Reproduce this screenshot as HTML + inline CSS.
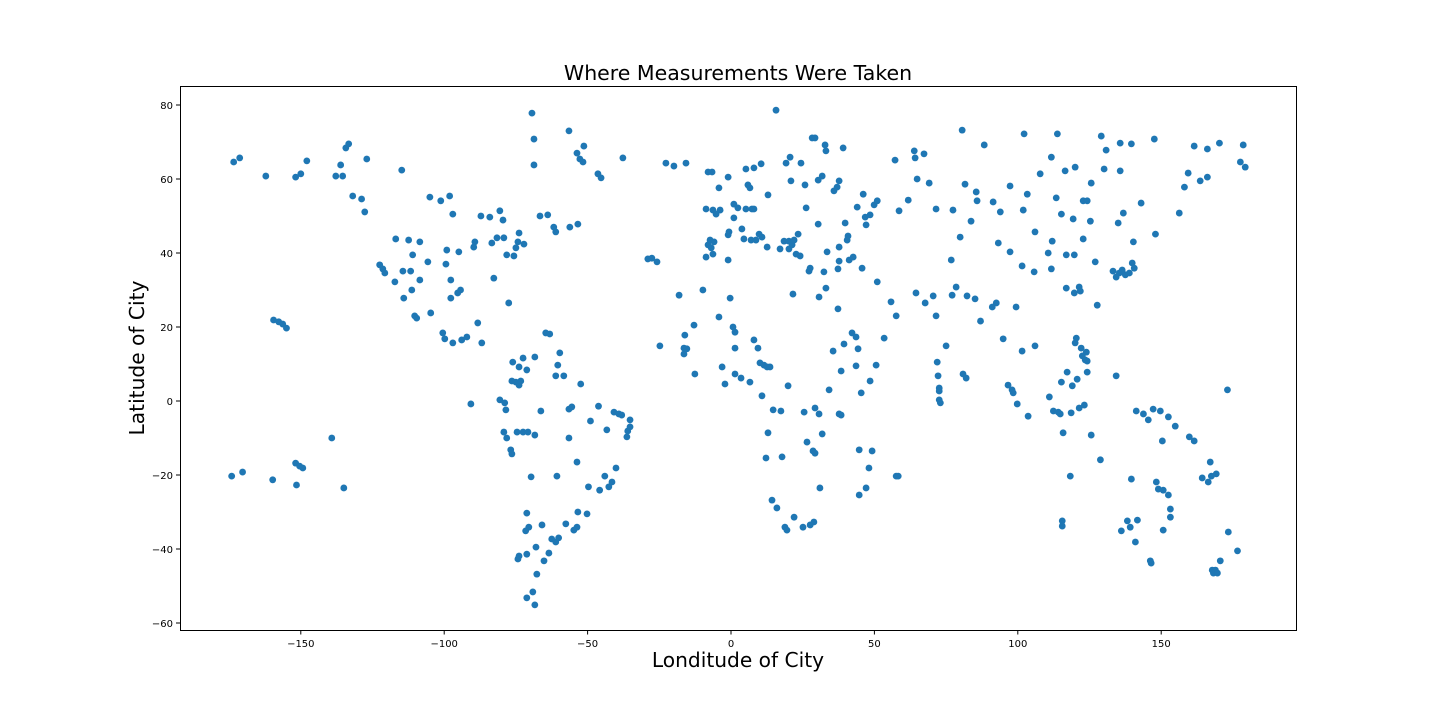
<!DOCTYPE html>
<html><head><meta charset="utf-8"><style>
html,body{margin:0;padding:0;background:#fff;}
svg{display:block;font-family:"DejaVu Sans","Liberation Sans",sans-serif;}
</style></head><body>
<svg id="chart" width="1440" height="720">
<rect x="0" y="0" width="1440" height="720" fill="#fff"/>
<text x="738" y="80" text-anchor="middle" font-size="20.5" fill="#000">Where Measurements Were Taken</text>
<g id="points"></g>
<g id="xticks"></g>
<g id="yticks"></g>
<rect x="180.5" y="86.5" width="1116" height="544" fill="none" stroke="#000" stroke-width="1"/>
<text x="738" y="667" text-anchor="middle" font-size="20.2" fill="#000">Londitude of City</text>
<text transform="translate(144,358) rotate(-90)" text-anchor="middle" font-size="20.2" fill="#000">Latitude of City</text>
</svg>
<script>
const xTickValues=[-150,-100,-50,0,50,100,150];
const yTickValues=[-60,-40,-20,0,20,40,60,80];
const lngs=[-173.4,-171.3,-162.2,-151.8,-150,-147.9,-137.8,-136.1,-135.4,-134.3,-133.3,-131.9,-128.8,-127.7,-127,-114.8,-122.5,-121.4,-120.7,-116.9,-117.2,-114.4,-114.1,-112.4,-111.7,-111,-111.3,-110.3,-109.6,-108.5,-108.5,-105.7,-104.7,-105,-101.2,-98.1,-97,-99.4,-99.1,-100.5,-99.8,-97.7,-97.7,-97,-95.3,-94.3,-94.9,-93.9,-92.1,-90.7,-89.7,-89.3,-88.3,-87.2,-86.9,-84.1,-83.4,-82.7,-81.6,-80.6,-79.5,-79.2,-78.2,-77.5,-75.7,-75,-74.3,-73.9,-72.2,-69.4,-68.7,-68.7,-66.6,-63.9,-61.8,-61.1,-56.5,-56.2,-53.4,-53.7,-52.7,-51.6,-51.3,-46.4,-45.3,-37.7,
-76.1,-73.9,-72.5,-71.2,-68.4,-76.4,-75,-73.9,-73.3,-80.6,-78.9,-78.5,-79.2,-78.2,-76.8,-76.4,-74.6,-72.5,-70.8,-68.4,-69.7,-71.2,-70.5,-71.6,-73.9,-74.3,-71.2,-68,-69.1,-71.2,-68.4,-67.7,-66.3,-65.2,-65.9,-63.5,-64.6,-63.2,-61.1,-60.4,-59.7,-62.5,-61.1,-60.1,-60.7,-58.3,-57.6,-56.5,-56.5,-55.5,-54.8,-53.7,-53.7,-53.4,-52.4,-50.2,-49.7,-49,-46.2,-45.8,-44,-43.3,-42.6,-41.5,-40.8,-40.1,-39.1,-38.1,-36.3,-36,-35.2,-35.2,
-29,-27.6,-25.8,-24.8,-22.7,-19.9,-18.1,-16.4,-16.4,-16.1,-15.4,-15.7,-12.9,-12.6,-9.8,-8.7,-8.7,-8,-6.6,-8,-7.3,-6.9,-5.9,-6.3,-6.3,-5.2,-3.8,-4.2,-4.2,-3.1,-2.1,-1,-1,-0.7,-1,-0.3,1,1,0.7,1.4,1.4,1.4,2.4,3.5,3.8,4.5,5.2,5.2,5.9,6.6,6.6,7,7.3,8,8,8,8.7,9.4,9.8,10.5,10.1,10.8,10.8,11.5,12.6,12.6,12.9,12.2,12.9,13.6,14.3,14.7,15.7,16,17.1,17.4,17.8,18.5,18.8,19.2,19.5,19.9,20.2,20.2,20.6,20.9,21.3,21.6,22,22,22.7,23.4,24.1,24.4,25.1,25.5,25.8,26.2,26.5,27.2,27.6,27.6,28.3,28.6,28.9,29.3,29.3,29.3,30.4,30.4,30.7,30.7,31,31.8,31.8,32.4,32.8,33.1,33.1,33.5,34.2,35.6,35.9,37,37.3,37.3,37.7,37.7,37.7,37.7,38.4,38.4,39.1,39.4,39.8,40.5,40.8,41.2,42.6,42.2,43.6,43.6,44,44.3,44.7,44.7,45.4,45.7,46.1,46.8,47.1,47.1,48.5,48.5,48.1,49.2,49.9,51,50.6,51,53.4,55.8,57.2,57.6,57.6,58.3,58.6,61.8,63.9,64.2,64.5,64.9,67.3,67.7,69.1,70.5,71.5,71.5,71.9,72.2,72.6,72.6,72.6,73,75,76.8,77.1,77.4,78.5,79.9,80.6,80.9,81.6,82,82.3,83.7,85.1,85.5,85.8,87,88.3,91.1,91.4,92.5,93.2,93.9,94.9,96.6,97.3,97.3,98,98.4,99.4,99.8,101.5,101.5,101.9,102.2,103.3,103.6,105.7,106,106,107.8,110.6,111,111.7,111.7,112,112.4,113.4,113.8,114.1,114.8,115.2,115.2,115.5,115.5,115.8,116.5,116.9,116.9,117.2,118.3,118.6,119,119.3,119.7,119.7,120,120,120.4,120.7,121.4,121.4,121.8,122.1,122.5,122.8,122.8,123.2,123.5,123.9,124.2,124.2,124.2,125.3,125.6,125.6,127,127.7,128.8,129.1,130.1,130.8,133.2,134.3,134.3,135,135.4,135.7,135.7,136.1,136.4,136.8,137.5,138.2,138.9,139.2,139.6,139.6,139.9,140.3,140.6,141,141.3,141.7,143,143.8,145.5,146.2,146.5,147.2,147.6,148,148.3,149,149.7,150.4,150.7,150.7,152.5,152.5,153.2,153.2,154.9,156.3,158.1,159.4,159.8,161.5,161.5,163.6,164.3,166.1,166.1,167.1,166.4,167.5,167.8,168.2,168.9,169.2,169.6,170.3,170.6,173.1,173.4,176.6,177.6,178.6,179.3,
-174.1,-170.3,-159.8,-159.5,-157.7,-156.3,-155,-151.8,-150.4,-149.3,-151.5,-139.2,-135];
const lats=[64.6,65.7,60.8,60.5,61.4,64.9,60.8,63.8,60.8,68.4,69.5,55.4,54.6,51.1,65.4,62.4,36.8,35.7,34.6,43.8,32.2,35.1,27.8,43.5,35.1,39.5,30,23,22.4,32.7,43,37.6,23.8,55.1,54.1,55.4,50.5,37,40.8,18.4,16.8,32.7,27.8,15.7,29.2,30,40.3,16.5,17.3,-0.8,41.6,43,21.1,50,15.7,49.7,42.7,33.2,44.1,51.4,48.9,44.1,39.5,26.5,39.2,41.4,43,45.4,42.4,77.8,70.8,63.8,50,50.3,47,45.7,73,47,47.8,67,65.4,64.6,68.9,61.4,60.3,65.7,
10.5,9.2,11.6,8.4,11.9,5.4,5.1,4.3,5.4,0.3,-0.5,-2.4,-8.4,-10,-13.2,-14.3,-8.4,-8.4,-8.4,-9.2,-20.5,-30.3,-34.1,-35.1,-41.9,-42.7,-41.4,-39.5,-51.6,-53.2,-55.1,-46.8,-2.7,-43.2,-33.5,-41.1,18.4,18.1,6.8,9.7,13,-37.3,-38.1,-37,-20.3,6.8,-33.2,-10,-2.2,-1.6,-34.9,-34.1,-16.5,-30,4.6,-30.5,-23.2,-5.4,-1.4,-24.1,-20.3,-7.8,-23.2,-21.9,-3,-18.1,-3.5,-3.8,-9.7,-8.1,-5.1,-7,
38.4,38.6,37.6,14.9,64.3,63.5,28.6,14.3,12.7,17.8,14.1,64.3,20.5,7.3,30,38.9,51.9,61.9,61.9,42.2,43.5,41.4,43,39.7,51.6,50.5,51.6,57.6,22.7,9.2,4.6,60.5,44.9,45.7,38.1,27.8,53.2,49.5,20,18.6,14.3,7.3,52.2,6.2,46.5,43.8,51.9,62.7,58.4,57.6,5.1,43.5,51.9,63,51.9,16.5,43.5,14.3,45.1,64.1,10.3,44.3,1.4,9.7,9.2,41.6,55.7,-15.4,-8.6,9.2,-26.8,-2.4,78.6,-28.9,41.1,-2.7,-15.1,43.2,-34.1,64.3,-34.9,4.1,43.2,41.1,65.9,59.5,42.2,28.9,43.5,-31.4,39.7,45.1,39.2,64.3,-34.1,-3,58.4,52.2,-11.1,35.1,35.9,-33.5,71.1,-13.5,-32.7,71.1,-1.9,-14.1,47.8,59.7,28.1,-3.5,-23.5,-8.9,60.8,34.9,69.2,67.6,30.5,40.3,3,13.5,56.8,57.8,35.7,24.9,37.8,41.6,59.5,-3.5,-3.8,8.1,68.4,15.4,48.1,43.5,44.6,38.1,38.9,18.4,17.3,9.5,52.4,14.1,-13.2,-25.4,2.2,35.9,55.9,49.7,47.6,-23.5,50.3,5.4,-18.1,-13.5,53,54.1,9.7,32.2,17,26.8,65.1,23,-20.3,-20.3,51.4,54.3,67.6,65.7,29.2,60,66.8,26.5,58.9,28.4,51.9,23,10.5,6.8,3.5,2.7,0.3,-0.5,14.9,38.1,28.6,51.6,30.8,44.3,73.2,7.3,58.6,6.2,28.4,48.6,27.6,56.5,54.1,21.6,69.2,25.4,53.8,26.5,42.7,51.1,16.8,4.3,58.1,40.3,3,2.2,25.4,-0.8,13.5,36.5,51.6,72.2,55.9,-4.1,34.9,14.9,45.7,61.4,40,1.1,35.7,65.9,43.2,-2.7,54.9,72.2,-3,-3.5,5.1,50.5,-32.4,-33.8,-8.6,62.2,30.5,39.5,7.8,-20.3,-3.2,4.1,49.2,29.2,39.5,63.2,15.7,17,5.9,30.8,-1.9,29.7,14.3,12.2,54.1,43.8,-1.1,11.1,13.2,10.8,7.8,54.1,48.6,58.9,-9.2,37.6,25.9,-15.9,71.6,62.7,67.8,35.1,6.8,33.5,48.1,34.6,62.2,69.7,-35.1,35.4,50.8,34.1,-32.4,34.6,-34.1,-21.1,69.5,37.3,43,35.9,-38.1,-2.7,-32.2,53.5,-3.5,-5.1,-43.2,-43.8,-2.2,70.8,45.1,-21.9,-23.8,-2.7,-10.8,-24.1,-34.9,-4.3,-25.4,-29.2,-31.4,-6.8,50.8,57.8,61.6,-9.7,-10.8,68.9,59.5,-20.8,60.5,68.1,-16.5,-21.9,-20.3,-45.7,-46.5,-45.7,-19.7,-46.5,69.7,-43.2,3,-35.4,-40.5,64.6,69.2,63.2,
-20.3,-19.2,-21.3,21.9,21.4,20.8,19.7,-16.8,-17.6,-18.1,-22.7,-10,-23.5];
const NS='http://www.w3.org/2000/svg';
function xScale(v){return 731+v*2.868;}
function yScale(v){return 401-v*3.7;}
const pg=document.getElementById('points');
for(let i=0;i<Math.min(lngs.length,lats.length);i++){
  const c=document.createElementNS(NS,'circle');
  c.setAttribute('cx',xScale(lngs[i]));c.setAttribute('cy',yScale(lats[i]));
  c.setAttribute('r',3.4);c.setAttribute('fill','#1f77b4');
  
  
  pg.appendChild(c);
}
const xg=document.getElementById('xticks');
xTickValues.forEach(v=>{
  const x=xScale(v);
  const l=document.createElementNS(NS,'line');
  l.setAttribute('x1',x);l.setAttribute('x2',x);l.setAttribute('y1',630.5);l.setAttribute('y2',634.5);l.setAttribute('stroke','#000');
  
  
  xg.appendChild(l);
  const t=document.createElementNS(NS,'text');
  t.setAttribute('x',x);t.setAttribute('y',647);t.setAttribute('text-anchor','middle');t.setAttribute('font-size','10');
  t.textContent=v<0?'\u2212'+Math.abs(v):String(v);
  
  
  xg.appendChild(t);
});
const yg=document.getElementById('yticks');
yTickValues.forEach(v=>{
  const y=yScale(v);
  const l=document.createElementNS(NS,'line');
  l.setAttribute('x1',176);l.setAttribute('x2',180.5);l.setAttribute('y1',y);l.setAttribute('y2',y);l.setAttribute('stroke','#000');
  
  
  yg.appendChild(l);
  const t=document.createElementNS(NS,'text');
  t.setAttribute('x',173);t.setAttribute('y',y+4);t.setAttribute('text-anchor','end');t.setAttribute('font-size','10');
  t.textContent=v<0?'\u2212'+Math.abs(v):String(v);
  
  
  yg.appendChild(t);
});
</script>
</body></html>
